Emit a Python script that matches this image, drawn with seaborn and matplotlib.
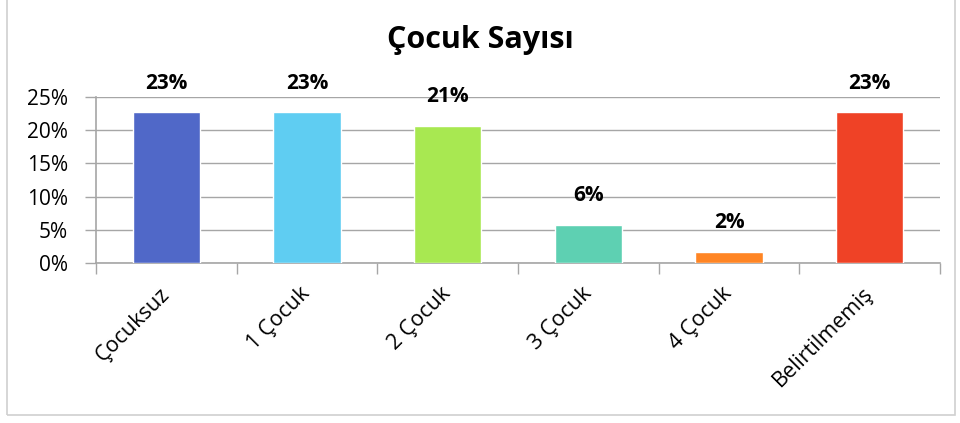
import matplotlib
matplotlib.use("Agg")
import matplotlib.pyplot as plt
import seaborn as sns
import pandas as pd
from matplotlib.ticker import PercentFormatter, FixedLocator
from matplotlib.patches import Rectangle

categories = ["Çocuksuz", "1 Çocuk", "2 Çocuk", "3 Çocuk", "4 Çocuk", "Belirtilmemiş"]
values = [0.227, 0.227, 0.207, 0.057, 0.017, 0.227]
labels = ["23%", "23%", "21%", "6%", "2%", "23%"]
colors = ["#5068C8", "#5FCDF2", "#A8E851", "#5ED0B2", "#FF8524", "#EF4226"]
title = "Çocuk Sayısı"

sns.set_theme(style="white")
plt.rcParams["font.family"] = ["Open Sans", "DejaVu Sans"]
plt.rcParams["text.color"] = "#000000"

df = pd.DataFrame({"cat": categories, "val": values})

fig = plt.figure(figsize=(9.6, 4.23), dpi=100)
ax = fig.add_axes([96/960, 1-263/423, (940-96)/960, (263-97)/423])

sns.barplot(data=df, x="cat", y="val", hue="cat", palette=colors, legend=False,
            width=0.48, ax=ax, saturation=1, zorder=3)

ax.set_ylim(0, 0.25)
ax.set_xlim(-0.5, len(categories) - 0.5)
ax.yaxis.set_major_locator(FixedLocator([0, 0.05, 0.10, 0.15, 0.20, 0.25]))
ax.yaxis.set_major_formatter(PercentFormatter(1.0, decimals=0))
ax.grid(axis="y", color="#A6A6A6", linewidth=1.0, zorder=0)
ax.set_axisbelow(True)

for s in ["top", "right"]:
    ax.spines[s].set_visible(False)
for s in ["left", "bottom"]:
    ax.spines[s].set_color("#A6A6A6")
    ax.spines[s].set_linewidth(1.2)

ax.tick_params(axis="y", which="major", left=True, length=8, width=1.0,
               color="#A6A6A6", labelsize=15, labelcolor="#000000", pad=12)
ax.set_xticks([i + 0.5 for i in range(-1, len(categories))], minor=True)
ax.tick_params(axis="x", which="minor", bottom=True, length=8, width=1.0, color="#A6A6A6")
ax.tick_params(axis="x", which="major", bottom=False, length=0, labelsize=15.5,
               labelcolor="#000000", pad=20)
for lab in ax.get_xticklabels():
    lab.set_rotation(45)
    lab.set_ha("right")
    lab.set_rotation_mode("anchor")
    lab.set_va("center")

ax.set_xlabel("")
ax.set_ylabel("")

for i, (v, t) in enumerate(zip(values, labels)):
    ax.annotate(t, (i, v), xytext=(0, 21), textcoords="offset points",
                ha="center", va="center", fontsize=15, fontweight="bold", color="#000000")

fig.text(0.5, 1-40/423, title, ha="center", va="center", fontsize=22,
         fontweight="bold", color="#000000")

fig.patches.append(Rectangle((7/960, 8/423), (955-7)/960, (423-8)/423 + 0.05,
                             transform=fig.transFigure, fill=False,
                             edgecolor="#D0D0D0", linewidth=1.2))

fig.savefig("out.png", dpi=100)
